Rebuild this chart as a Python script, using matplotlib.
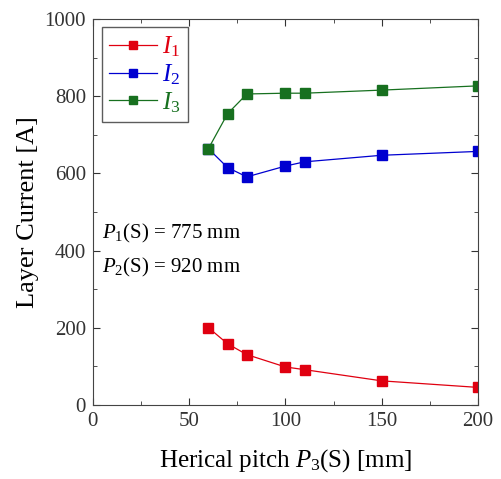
import numpy as np
import matplotlib
matplotlib.use("Agg")
import matplotlib.pyplot as plt
from matplotlib.ticker import MultipleLocator

plt.rcParams['font.family'] = ['Liberation Serif', 'DejaVu Serif']
plt.rcParams['mathtext.fontset'] = 'custom'
plt.rcParams['mathtext.rm'] = 'Liberation Serif'
plt.rcParams['mathtext.it'] = 'Liberation Serif:italic'

pitch = [60, 70, 80, 100, 110, 150, 200]
I1 = [200, 158, 130, 98, 91, 62, 45]
I2 = [664, 615, 591, 619, 630, 647, 657]
I3 = [664, 755, 806, 808, 808, 816, 827]

c1 = '#e00010'
c2 = '#0000d0'
c3 = '#17701f'

fig = plt.figure(figsize=(5.02, 4.79), dpi=100)
ax = fig.add_axes([0.185, 0.155, 0.767, 0.805])

ax.plot(pitch, I1, '-s', color=c1, lw=0.9, ms=7, label='$I_1$')
ax.plot(pitch, I2, '-s', color=c2, lw=0.9, ms=7, label='$I_2$')
ax.plot(pitch, I3, '-s', color=c3, lw=0.9, ms=7, label='$I_3$')

ax.set_xlim(0, 200)
ax.set_ylim(0, 1000)
ax.xaxis.set_major_locator(MultipleLocator(50))
ax.xaxis.set_minor_locator(MultipleLocator(25))
ax.yaxis.set_major_locator(MultipleLocator(200))
ax.yaxis.set_minor_locator(MultipleLocator(100))
ax.tick_params(which='both', direction='in', top=True, right=True, labelsize=15, colors='#333333')
ax.tick_params(which='major', length=5, pad=5)
ax.tick_params(which='minor', length=3)
for s in ax.spines.values():
    s.set_color('#444444')

ax.set_xlabel('Herical pitch $P_3$(S) [mm]', fontsize=18, labelpad=12)
ax.set_ylabel('Layer Current [A]', fontsize=19, labelpad=4)

ax.text(5, 432, '$P_1$(S) = 775 mm', fontsize=15)
ax.text(5, 343, '$P_2$(S) = 920 mm', fontsize=15)

leg = ax.legend(loc='upper left', fontsize=18, frameon=True, fancybox=False,
                edgecolor='#333333', handlelength=1.9, handletextpad=0.2,
                borderpad=0.3, borderaxespad=0, labelspacing=0.12,
                markerscale=0.9, bbox_to_anchor=(0.023, 0.979))
leg.get_frame().set_linewidth(1.0)
for t, c in zip(leg.get_texts(), [c1, c2, c3]):
    t.set_color(c)

fig.savefig('out.png', dpi=100)
